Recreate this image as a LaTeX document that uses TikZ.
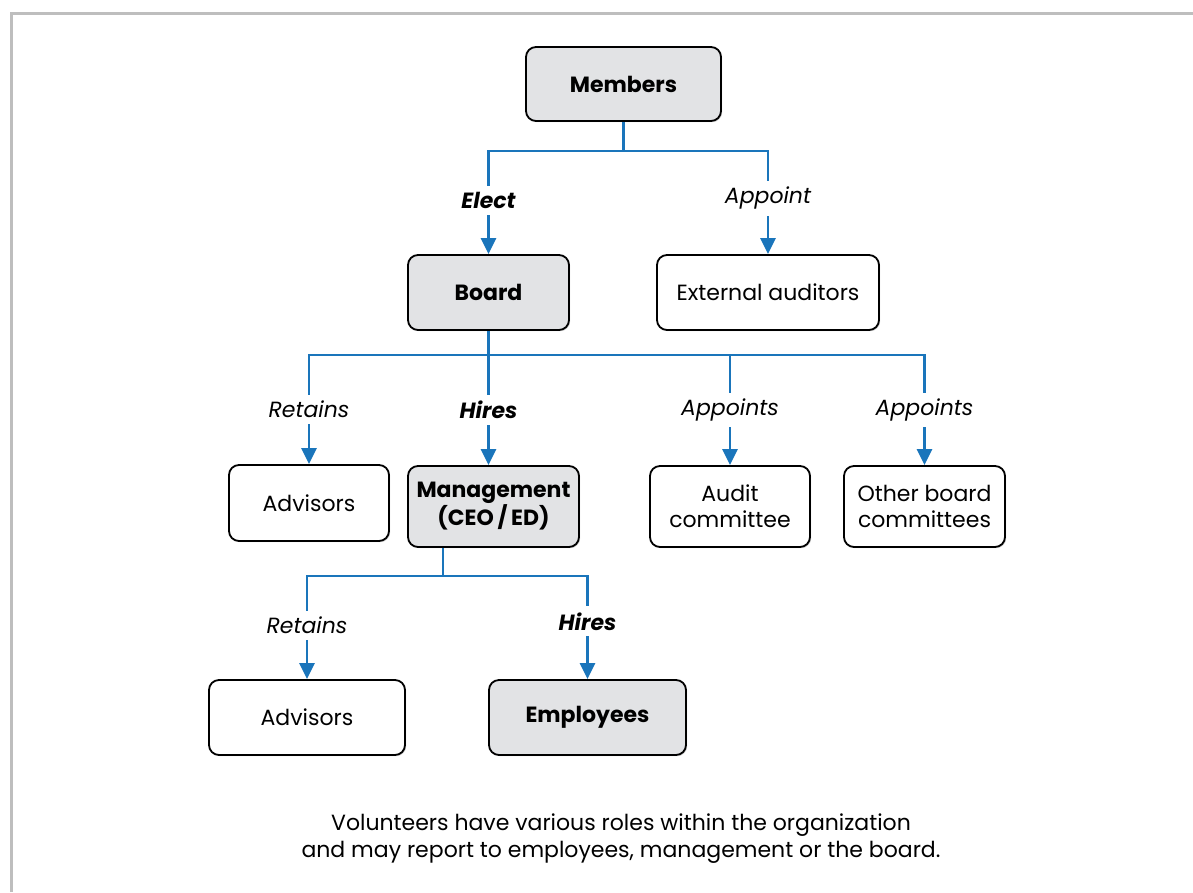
\documentclass[tikz,border=0pt]{standalone}
\usepackage{fontspec}
\setmainfont{Poppins}
\usetikzlibrary{arrows.meta, positioning, shadows, calc}
\definecolor{linkblue}{HTML}{1A75BB}
\definecolor{boxgray}{HTML}{E2E3E5}
\definecolor{framegray}{HTML}{BEBEBE}
\tikzset{
  unit/.style={
    rectangle, rounded corners=10pt,
    draw=black, line width=1.8pt, fill=white,
    align=center, font=\fontsize{22}{26}\selectfont,
    drop shadow={shadow xshift=1.2pt, shadow yshift=-1.2pt, opacity=0.35},
  },
  keyunit/.style={unit, fill=boxgray, font=\fontsize{22}{26}\selectfont\bfseries},
  link/.style={-{Triangle[length=16pt,width=15pt]}, line width=2.6pt, draw=linkblue},
  branch/.style={line width=2.6pt, draw=linkblue},
  verb/.style={fill=white, inner sep=6pt, font=\fontsize{22}{26}\selectfont\itshape},
  keyverb/.style={verb, font=\fontsize{22}{26}\selectfont\bfseries\itshape},
}

\begin{document}
\begin{tikzpicture}[x=1pt,y=-1pt]
  \useasboundingbox (0,0) rectangle (1193,892);
  \draw[framegray, line width=3pt] (11,892) |- (1193,13.5);

  % governance units
  \node[keyunit, minimum width=195pt, minimum height=74pt] (members) at (623.5,84) {Members};
  \node[keyunit, minimum width=161pt, minimum height=75pt] (board) at (488.5,292.5) {Board};
  \node[unit, minimum width=222pt, minimum height=75pt] (auditors) at (768,292.5) {External auditors};
  \node[unit, minimum width=160pt, minimum height=76pt] (advA) at (309,503) {Advisors};
  \node[keyunit, minimum width=171pt, minimum height=81pt] (mgmt) at (493.5,506.5) {Management\\(CEO\,/\,ED)};
  \node[unit, minimum width=160pt, minimum height=81pt] (audit) at (730,506.5) {Audit\\committee};
  \node[unit, minimum width=161pt, minimum height=81pt] (othercom) at (924.5,506.5) {Other board\\committees};
  \node[unit, minimum width=196pt, minimum height=75pt] (advB) at (307,717.5) {Advisors};
  \node[keyunit, minimum width=197pt, minimum height=75pt] (employees) at (587.5,717.5) {Employees};

  % members
  \draw[branch] (members.south) -- ++(0,29) coordinate (mj);
  \draw[link] (mj) -| node[keyverb, pos=0.74] {Elect} (board.north);
  \draw[link] (mj) -| node[verb, pos=0.73] {Appoint} (auditors.north);

  % board
  \draw[branch] (board.south) -- ++(0,24) coordinate (bj);
  \draw[link] (bj) -| node[verb, pos=0.75] {Retains} (advA.north);
  \draw[link] (bj) -- node[keyverb] {Hires} (bj |- mgmt.north);
  \draw[link] (bj) -| node[verb, pos=0.75] {Appoints} (audit.north);
  \draw[link] (bj) -| node[verb, pos=0.75] {Appoints} (othercom.north);

  % management
  \draw[branch] ([xshift=-50.5pt]mgmt.south) -- ++(0,28) coordinate (mgj);
  \draw[link] (mgj) -| node[verb, pos=0.74] {Retains} (advB.north);
  \draw[link] (mgj) -| node[keyverb, pos=0.72] {Hires} (employees.north);

  \node[align=center, font=\fontsize{22}{27}\selectfont] (note) at (621,839)
    {Volunteers have various roles within the organization\\and may report to employees, management or the board.};
\end{tikzpicture}
\end{document}
